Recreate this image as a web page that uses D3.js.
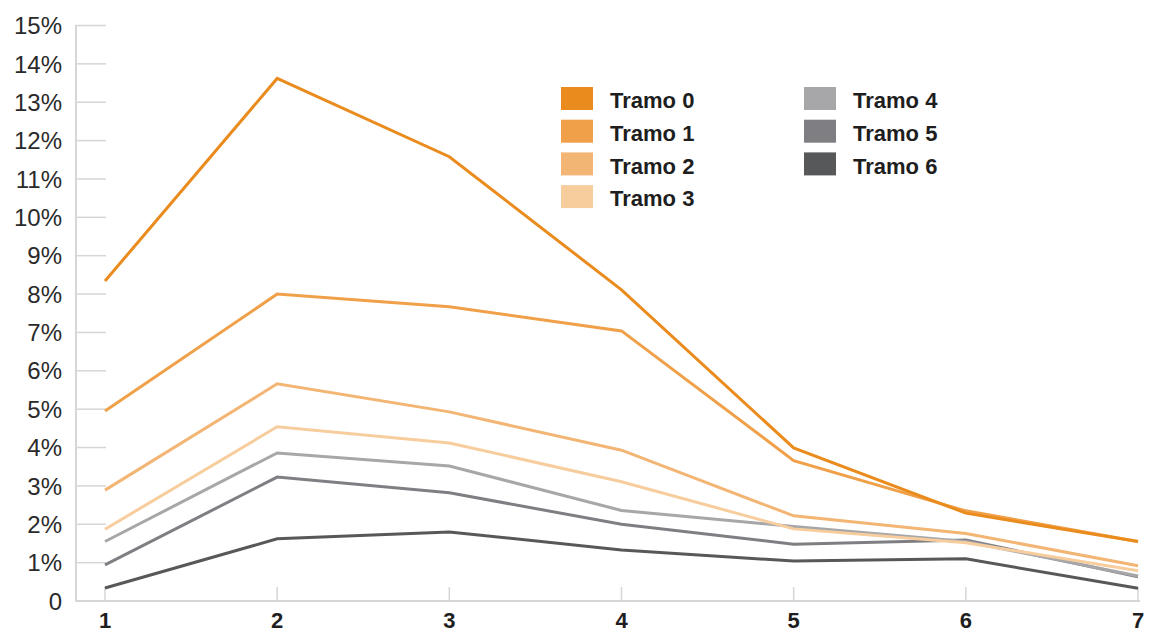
<!DOCTYPE html>
<html><head><meta charset="utf-8">
<script src="https://cdn.jsdelivr.net/npm/d3@7"></script>
<style>body{margin:0;background:#fff}svg{display:block}</style>
</head><body><svg id="c" width="1151" height="634"></svg>
<script>
const categories = [1, 2, 3, 4, 5, 6, 7];
const seriesNames = ["Tramo 0","Tramo 1","Tramo 2","Tramo 3","Tramo 4","Tramo 5","Tramo 6"];
const tramo0 = [8.34, 13.62, 11.58, 8.11, 3.99, 2.29, 1.55];
const tramo1 = [4.95, 8.00, 7.67, 7.04, 3.66, 2.35, 1.55];
const tramo2 = [2.89, 5.66, 4.93, 3.93, 2.22, 1.76, 0.92];
const tramo3 = [1.87, 4.54, 4.12, 3.11, 1.88, 1.52, 0.79];
const tramo4 = [1.55, 3.86, 3.52, 2.36, 1.94, 1.55, 0.65];
const tramo5 = [0.94, 3.23, 2.82, 2.00, 1.48, 1.59, 0.63];
const tramo6 = [0.34, 1.62, 1.80, 1.33, 1.04, 1.10, 0.33];
const yTicks = [0,1,2,3,4,5,6,7,8,9,10,11,12,13,14,15];
const colors = ["#EA8B1E","#EFA048","#F3B574","#F7CD9D","#A7A7AA","#7F7F83","#57585A"];
const series = [tramo0,tramo1,tramo2,tramo3,tramo4,tramo5,tramo6];

const svg = d3.select("#c");
const x = d3.scaleLinear().domain([1,7]).range([105,1138]);
const y = d3.scaleLinear().domain([0,15]).range([601,25.5]);
const grid = "#d6d6d6";

svg.append("line").attr("x1",76).attr("x2",76).attr("y1",y(15)).attr("y2",y(0))
  .attr("stroke",grid).attr("stroke-width",2);
svg.selectAll(".yt").data(yTicks).join("line")
  .attr("x1",75).attr("x2",106).attr("y1",d=>y(d)).attr("y2",d=>y(d))
  .attr("stroke",grid).attr("stroke-width",1.5);
svg.selectAll(".yl").data(yTicks).join("text")
  .attr("x",62).attr("y",d=>y(d)).attr("dy","0.36em").attr("text-anchor","end")
  .attr("font-family","Liberation Sans, Arial, sans-serif").attr("font-size",24)
  .attr("fill","#2a2a2a").text(d=>d===0?"0":d+"%");
svg.append("line").attr("x1",76).attr("x2",1140).attr("y1",y(0)).attr("y2",y(0))
  .attr("stroke",grid).attr("stroke-width",2);
svg.selectAll(".xt").data(categories).join("line")
  .attr("x1",d=>x(d)).attr("x2",d=>x(d)).attr("y1",y(0)).attr("y2",y(0)-14)
  .attr("stroke",grid).attr("stroke-width",1.5);
svg.selectAll(".xl").data(categories).join("text")
  .attr("x",d=>x(d)).attr("y",628).attr("text-anchor","middle")
  .attr("font-family","Liberation Sans, Arial, sans-serif").attr("font-size",22).attr("font-weight","bold")
  .attr("fill","#1e1e1e").text(d=>d);

const line = d3.line().x((d,i)=>x(categories[i])).y(d=>y(d));
for (let s = series.length-1; s>=0; s--) {
  svg.append("path").datum(series[s]).attr("d",line).attr("fill","none")
    .attr("stroke",colors[s]).attr("stroke-width",3).attr("stroke-linejoin","miter");
}

const lg = svg.append("g");
seriesNames.forEach((n,i)=>{
  const col = i<4?0:1, row = i<4?i:i-4;
  const lx = col===0?561:804, ly = 87+row*32.7;
  lg.append("rect").attr("x",lx).attr("y",ly).attr("width",32).attr("height",23).attr("fill",colors[i]);
  lg.append("text").attr("x",lx+49).attr("y",ly+13).attr("dy","0.38em")
    .attr("font-family","Liberation Sans, Arial, sans-serif").attr("font-size",22).attr("font-weight","bold")
    .attr("fill","#1e1e1e").text(n);
});
</script></body></html>
